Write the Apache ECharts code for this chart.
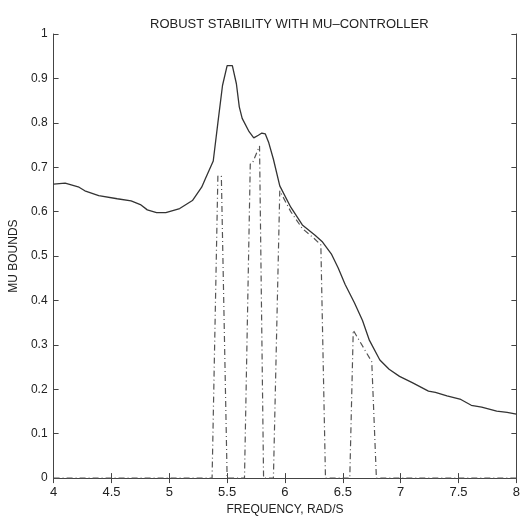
<!DOCTYPE html>
<html>
<head>
<meta charset="utf-8">
<script src="https://cdn.jsdelivr.net/npm/echarts@6/dist/echarts.min.js"></script>
<style>
html,body{margin:0;padding:0;background:#fff;}
#chart{width:523px;height:521px;}
</style>
</head>
<body>
<div id="chart"></div>
<script>
// upper bound (solid)
var freqUpper = [4.0,4.1,4.22,4.27,4.39,4.55,4.67,4.75,4.81,4.89,4.97,5.09,5.2,5.28,5.31,5.38,5.42,5.46,5.5,5.545,5.58,5.605,5.63,5.69,5.73,5.77,5.8,5.83,5.86,5.9,5.955,6.05,6.15,6.26,6.32,6.4,6.46,6.52,6.6,6.67,6.73,6.82,6.9,6.99,7.1,7.24,7.3,7.4,7.52,7.61,7.7,7.83,7.92,8.0];
var muUpper = [0.662,0.664,0.655,0.647,0.636,0.629,0.624,0.616,0.604,0.598,0.598,0.607,0.625,0.655,0.673,0.714,0.8,0.884,0.929,0.929,0.888,0.836,0.81,0.78,0.766,0.772,0.777,0.775,0.755,0.718,0.658,0.61,0.57,0.547,0.533,0.505,0.473,0.436,0.395,0.355,0.31,0.266,0.245,0.229,0.215,0.196,0.193,0.185,0.177,0.164,0.16,0.151,0.148,0.144];
// lower bound (dashed)
var freqLower = [4.0,5.37,5.42,5.45,5.5,5.65,5.7,5.72,5.78,5.79,5.815,5.9,5.955,6.05,6.15,6.25,6.31,6.35,6.56,6.59,6.75,6.79,8.0];
var muLower = [0,0,0.68,0.68,0,0,0.707,0.71,0.748,0.745,0,0,0.647,0.6,0.562,0.54,0.525,0,0,0.333,0.262,0,0];

var xTicks = {min:4, max:8, interval:0.5};
var yTicks = {min:0, max:1, interval:0.1};

function pairs(xs, ys){
	var out=[];
	for(var i=0;i<xs.length;i++){ out.push([xs[i], ys[i]]); }
	return out;
}

var axisCol = '#444';
var font = 'Liberation Sans, Arial, sans-serif';

var chart = echarts.init(document.getElementById('chart'));
chart.setOption({
	animation:false,
	title:{
		text:'ROBUST STABILITY WITH MU\u2013CONTROLLER',
		left:145, top:13,
		textStyle:{fontFamily:font,fontSize:13,fontWeight:'normal',color:'#222'}
	},
	grid:{left:43,right:2,top:34,bottom:38},
	xAxis:[{
		type:'value', min:xTicks.min, max:xTicks.max, interval:xTicks.interval,
		name:'FREQUENCY, RAD/S', nameLocation:'middle', nameGap:23,
		nameTextStyle:{fontFamily:font,fontSize:12,color:'#222'},
		axisLine:{show:true,lineStyle:{color:axisCol,width:1}},
		axisTick:{inside:true,length:5,lineStyle:{color:axisCol}},
		axisLabel:{fontFamily:font,fontSize:13,color:'#222',margin:8},
		splitLine:{show:false}
	},{
		type:'value', position:'top', min:xTicks.min, max:xTicks.max, interval:xTicks.interval,
		axisLine:{show:true,lineStyle:{color:axisCol,width:1}},
		axisTick:{inside:true,length:5,lineStyle:{color:axisCol}},
		axisLabel:{show:false}, splitLine:{show:false}
	}],
	yAxis:[{
		type:'value', min:yTicks.min, max:yTicks.max, interval:yTicks.interval,
		name:'MU BOUNDS', nameLocation:'middle', nameGap:28,
		nameTextStyle:{fontFamily:font,fontSize:12,color:'#222'},
		axisLine:{show:true,lineStyle:{color:axisCol,width:1}},
		axisTick:{inside:true,length:5,lineStyle:{color:axisCol}},
		axisLabel:{fontFamily:font,fontSize:12,color:'#222',margin:6},
		splitLine:{show:false}
	},{
		type:'value', position:'right', min:yTicks.min, max:yTicks.max, interval:yTicks.interval,
		axisLine:{show:true,lineStyle:{color:axisCol,width:1}},
		axisTick:{inside:true,length:5,lineStyle:{color:axisCol}},
		axisLabel:{show:false}, splitLine:{show:false}
	}],
	series:[{
		name:'upper', type:'line', data:pairs(freqUpper, muUpper),
		showSymbol:false, smooth:false,
		lineStyle:{color:'#333',width:1.3}
	},{
		name:'lower', type:'line', data:pairs(freqLower, muLower),
		showSymbol:false, smooth:false,
		lineStyle:{color:'#555',width:1.2,type:[6,3,1,3]}
	}]
});
</script>
</body>
</html>
